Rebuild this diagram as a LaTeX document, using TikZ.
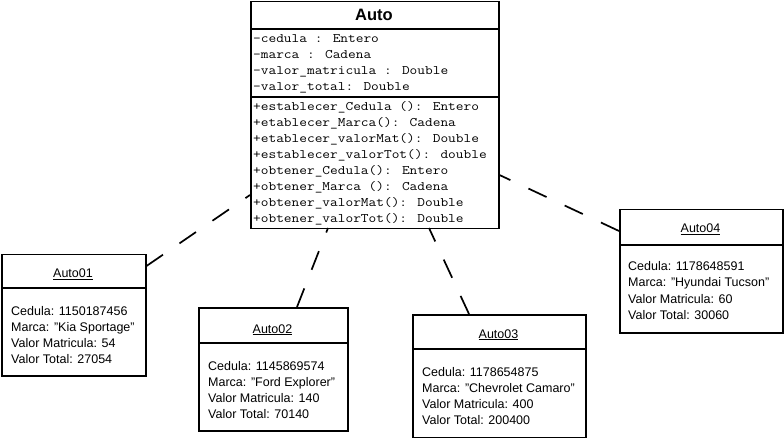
\documentclass[tikz,border=0pt]{standalone}
\usepackage{fontspec}
\setmainfont{Liberation Sans}
\newfontfamily\monof[FakeStretch=1.15]{Latin Modern Mono}
\begin{document}
\begin{tikzpicture}[x=1pt,y=-1pt,
  box/.style={draw=black, line width=1.5pt, fill=white, inner sep=0pt, anchor=north west},
  divider/.style={draw=black, line width=1.3pt},
  link/.style={draw=black, line width=1.7pt, dash pattern=on 20pt off 20pt},
  mono/.style={font=\monof\fontsize{13}{16}\selectfont, anchor=base west, inner sep=0pt},
  objtxt/.style={font=\fontsize{12.5}{16}\selectfont, anchor=base west, inner sep=0pt},
  objtitle/.style={font=\fontsize{12.5}{16}\selectfont, anchor=base, inner sep=0pt},
  clsname/.style={font=\bfseries\fontsize{16.5}{20}\selectfont, anchor=base, inner sep=0pt}]
\useasboundingbox[fill=white] (0,0) rectangle (784,438);

% class Auto
\node[box, minimum width=248pt, minimum height=227pt] (auto) at (250,1) {};
\draw[divider] (auto.west |- 0,29) -- (auto.east |- 0,29);
\draw[divider] (auto.west |- 0,97) -- (auto.east |- 0,97);
\node[clsname] (autot) at (374,21) {Auto};
\node[mono] (at1) at (253,43) {-cedula : Entero};
\node[mono] (at2) at (253,59) {-marca : Cadena};
\node[mono] (at3) at (253,75) {-valor\_matricula : Double};
\node[mono] (at4) at (253,91) {-valor\_total: Double};
\node[mono] (m1) at (253,111) {+establecer\_Cedula (): Entero};
\node[mono] (m2) at (253,126.9) {+etablecer\_Marca(): Cadena};
\node[mono] (m3) at (253,142.8) {+etablecer\_valorMat(): Double};
\node[mono] (m4) at (253,158.7) {+establecer\_valorTot(): double};
\node[mono] (m5) at (253,174.6) {+obtener\_Cedula(): Entero};
\node[mono] (m6) at (253,190.5) {+obtener\_Marca (): Cadena};
\node[mono] (m7) at (253,206.4) {+obtener\_valorMat(): Double};
\node[mono] (m8) at (253,222.3) {+obtener\_valorTot(): Double};

% Auto01
\node[box, minimum width=144pt, minimum height=121pt] (o1) at (1,254) {};
\draw[divider] (o1.west |- 0,288) -- (o1.east |- 0,288);
\node[objtitle] (o1t) at (73,278) {\underline{Auto01}};
\node[objtxt] (o1a) at (11,315) {Cedula: 1150187456};
\node[objtxt] (o1b) at (11,331) {Marca: "Kia Sportage"};
\node[objtxt] (o1c) at (11,347) {Valor Matricula: 54};
\node[objtxt] (o1d) at (11,363) {Valor Total: 27054};

% Auto02
\node[box, minimum width=149pt, minimum height=123pt] (o2) at (198,307) {};
\draw[divider] (o2.west |- 0,343) -- (o2.east |- 0,343);
\node[objtitle] (o2t) at (272.5,333) {\underline{Auto02}};
\node[objtxt] (o2a) at (208,370) {Cedula: 1145869574};
\node[objtxt] (o2b) at (208,386) {Marca: "Ford Explorer"};
\node[objtxt] (o2c) at (208,402) {Valor Matricula: 140};
\node[objtxt] (o2d) at (208,418) {Valor Total: 70140};

% Auto03
\node[box, minimum width=173pt, minimum height=123pt] (o3) at (412,314) {};
\draw[divider] (o3.west |- 0,349) -- (o3.east |- 0,349);
\node[objtitle] (o3t) at (498.5,338) {\underline{Auto03}};
\node[objtxt] (o3a) at (422,376) {Cedula: 1178654875};
\node[objtxt] (o3b) at (422,392) {Marca: "Chevrolet Camaro"};
\node[objtxt] (o3c) at (422,408) {Valor Matricula: 400};
\node[objtxt] (o3d) at (422,424) {Valor Total: 200400};

% Auto04
\node[box, minimum width=163pt, minimum height=123pt] (o4) at (619,209) {};
\draw[divider] (o4.west |- 0,245) -- (o4.east |- 0,245);
\node[objtitle] (o4t) at (700.5,233) {\underline{Auto04}};
\node[objtxt] (o4a) at (628,271) {Cedula: 1178648591};
\node[objtxt] (o4b) at (628,287) {Marca: "Hyundai Tucson"};
\node[objtxt] (o4c) at (628,303) {Valor Matricula: 60};
\node[objtxt] (o4d) at (628,319) {Valor Total: 30060};

% connectors
\coordinate (c1s) at (o1.east |- 0,266);
\coordinate (c1e) at (auto.west |- 0,195);
\coordinate (c2s) at (297,307);
\coordinate (c2e) at (328,228);
\coordinate (c3s) at (469,314);
\coordinate (c3e) at (429,228);
\coordinate (c4s) at (o4.west |- 0,231);
\coordinate (c4e) at (auto.east |- 0,175);
\draw[link] (c1s) -- (c1e);
\draw[link] (c2s) -- (c2e);
\draw[link] (c3s) -- (c3e);
\draw[link] (c4s) -- (c4e);
\end{tikzpicture}
\end{document}
